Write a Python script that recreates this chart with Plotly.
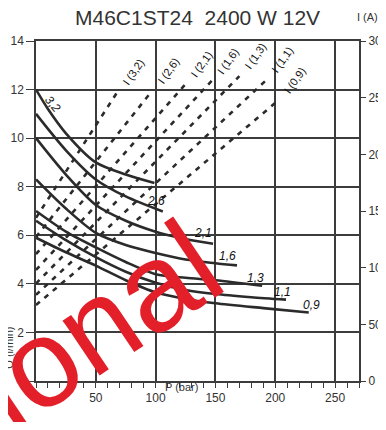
import plotly.graph_objects as go

# ---- data ----
sizes = ["3,2", "2,6", "2,1", "1,6", "1,3", "1,1", "0,9"]

# flow Q (l/min) vs pressure P (bar)
flow_p = {
    "3,2": [0, 10, 25, 50, 75, 99],
    "2,6": [0, 25, 50, 75, 106],
    "2,1": [0, 25, 50, 75, 100, 125, 148],
    "1,6": [0, 25, 50, 75, 100, 125, 150, 168],
    "1,3": [0, 25, 50, 75, 100, 125, 150, 189],
    "1,1": [0, 25, 50, 75, 100, 125, 150, 180, 209],
    "0,9": [0, 25, 50, 75, 100, 125, 150, 190, 228],
}
flow_q = {
    "3,2": [12.0, 11.2, 10.2, 9.0, 8.5, 8.15],
    "2,6": [11.0, 9.5, 8.3, 7.6, 6.98],
    "2,1": [10.0, 8.5, 7.25, 6.6, 6.15, 5.85, 5.65],
    "1,6": [8.3, 7.1, 6.1, 5.6, 5.27, 5.0, 4.85, 4.76],
    "1,3": [7.0, 6.15, 5.5, 4.9, 4.4, 4.25, 4.15, 3.92],
    "1,1": [6.6, 5.8, 5.1, 4.5, 4.05, 3.75, 3.58, 3.45, 3.35],
    "0,9": [5.9, 5.3, 4.75, 4.15, 3.65, 3.38, 3.2, 3.0, 2.82],
}

# current I (A) vs pressure P (bar): straight lines
cur_p = {
    "3,2": [0, 68], "2,6": [0, 97], "2,1": [0, 125], "1,6": [0, 147],
    "1,3": [0, 170], "1,1": [0, 193], "0,9": [0, 203],
}
cur_i = {
    "3,2": [144, 255], "2,6": [127, 256], "2,1": [112, 262], "1,6": [98, 265],
    "1,3": [86, 269], "1,1": [76, 266], "0,9": [67, 248],
}

x_ticks = [0, 50, 100, 150, 200, 250]
y_ticks = [0, 2, 4, 6, 8, 10, 12, 14]
y2_ticks = [0, 50, 100, 150, 200, 250, 300]

title_text = "M46C1ST24  2400 W 12V"

# ---- style ----
INK = "#2b2b2b"
GRID = "#3c3c3c"
FONT = "Liberation Sans, Arial, sans-serif"

flow_label_shift = {
    "2,6": (-7, 10), "2,1": (-10, 11), "1,6": (-9, 9),
    "1,3": (-7, 8), "1,1": (-4, 8), "0,9": (3, 8),
}

fig = go.Figure()

for s in sizes:
    fig.add_trace(go.Scatter(
        x=flow_p[s], y=flow_q[s], mode="lines",
        line=dict(color=INK, width=2.6, shape="spline", smoothing=0.8),
        hoverinfo="skip", showlegend=False, yaxis="y"))

for s in sizes:
    fig.add_trace(go.Scatter(
        x=cur_p[s], y=cur_i[s], mode="lines",
        line=dict(color=INK, width=2.6, dash="5px,6px"),
        hoverinfo="skip", showlegend=False, yaxis="y2"))

ann = []
for s in sizes:
    if s == "3,2":
        ann.append(dict(x=flow_p[s][0], y=flow_q[s][0], xref="x", yref="y",
                        text="<i>" + s + "</i>", showarrow=False, textangle=50,
                        xanchor="left", yanchor="top", xshift=3, yshift=-1,
                        font=dict(family=FONT, size=12, color="#111")))
    else:
        dx, dy = flow_label_shift[s]
        ann.append(dict(x=flow_p[s][-1], y=flow_q[s][-1], xref="x", yref="y",
                        text="<i>" + s + "</i>", showarrow=False,
                        xanchor="center", yanchor="middle",
                        xshift=dx, yshift=dy,
                        font=dict(family=FONT, size=12, color="#111")))
for s in sizes:
    ann.append(dict(x=cur_p[s][-1], y=cur_i[s][-1], xref="x", yref="y2",
                    text="I (" + s + ")", showarrow=False, textangle=-55,
                    xanchor="left", yanchor="bottom", xshift=0, yshift=2,
                    font=dict(family=FONT, size=11, color="#111")))

ann += [
    dict(x=0.5015, y=1.0705, xref="paper", yref="paper", text=title_text,
         xanchor="center", yanchor="middle",
         showarrow=False, font=dict(family=FONT, size=21, color="#333")),
    dict(x=1.0248, y=1.0705, xref="paper", yref="paper", text="I (A)",
         xanchor="center", yanchor="middle",
         showarrow=False, font=dict(family=FONT, size=11, color="#333")),
    dict(x=-0.0836, y=0.098, xref="paper", yref="paper", text="Q (l/min)",
         xanchor="center", yanchor="middle",
         showarrow=False, textangle=-90, font=dict(family=FONT, size=11, color="#333")),
    dict(x=0.449, y=-0.0168, xref="paper", yref="paper", text="P (bar)",
         xanchor="center", yanchor="middle",
         showarrow=False, font=dict(family=FONT, size=11, color="#333")),
    dict(x=0.190, y=0.165, xref="paper", yref="paper", text="ional",
         xanchor="center", yanchor="middle",
         showarrow=False, textangle=-34,
         font=dict(family=FONT, size=125, color="#e3202a")),
]

fig.update_layout(
    width=378, height=414, autosize=False,
    margin=dict(l=28, r=27, t=33, b=41, pad=0),
    paper_bgcolor="white", plot_bgcolor="white",
    font=dict(family=FONT, size=12, color="#333"),
    annotations=ann,
    xaxis=dict(range=[0, 270], tickvals=x_ticks, showgrid=True, gridcolor=GRID,
               gridwidth=1.5, zeroline=False, showline=True, linecolor=GRID,
               linewidth=1.5, mirror=True, ticks="outside", ticklen=5,
               tickcolor=GRID, tickwidth=1.2, automargin=False,
               minor=dict(dtick=10, ticks="outside", ticklen=5, tickcolor=GRID,
                          showgrid=False),
               tickfont=dict(size=12, color="#333")),
    yaxis=dict(range=[0, 14], tickvals=y_ticks, showgrid=True, gridcolor=GRID,
               gridwidth=1.5, zeroline=False, showline=True, linecolor=GRID,
               linewidth=1.5, mirror=True, ticks="outside", ticklen=8,
               tickcolor=GRID, tickwidth=1.2, automargin=False,
               tickfont=dict(size=12, color="#333")),
    yaxis2=dict(range=[0, 300], tickvals=y2_ticks, overlaying="y", side="right",
                showgrid=False, zeroline=False, showline=False, ticks="outside",
                ticklen=6, tickcolor=GRID, tickwidth=1.2, automargin=False,
                tickfont=dict(size=12, color="#333")),
)

fig.write_html("out.html")
